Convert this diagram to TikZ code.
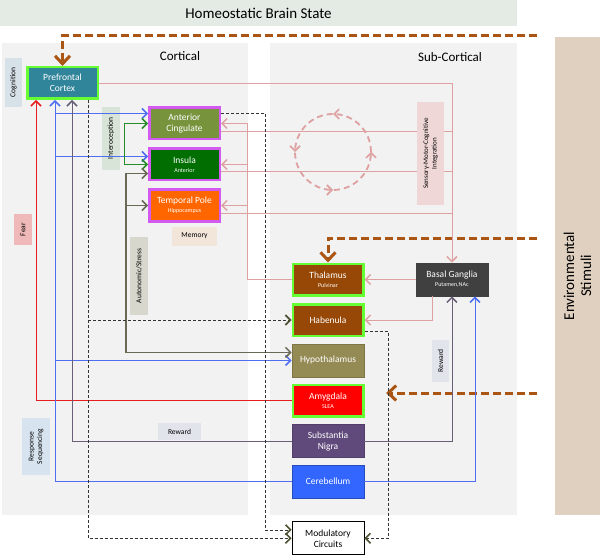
\documentclass[tikz,border=0pt]{standalone}
\usepackage{fontspec}
\setmainfont{Carlito}
\usetikzlibrary{arrows.meta, positioning, decorations.markings}

\definecolor{pfcteal}{RGB}{49,133,155}
\definecolor{glowgreen}{RGB}{102,255,51}
\definecolor{cingolive}{RGB}{119,147,60}
\definecolor{insgreen}{RGB}{0,110,0}
\definecolor{poleorange}{RGB}{255,102,0}
\definecolor{rimpink}{RGB}{210,90,240}
\definecolor{thalbrown}{RGB}{151,72,6}
\definecolor{hypkhaki}{RGB}{148,138,84}
\definecolor{snpurple}{RGB}{96,74,123}
\definecolor{cerblue}{RGB}{51,102,255}
\definecolor{bgdark}{RGB}{64,64,64}
\definecolor{panelgray}{RGB}{242,242,242}
\definecolor{homeogreen}{RGB}{228,235,228}
\definecolor{envtan}{RGB}{224,208,192}
\definecolor{stimbrown}{RGB}{170,85,20}
\definecolor{loopink}{RGB}{222,160,160}
\definecolor{fearred}{RGB}{230,30,30}
\definecolor{seqblue}{RGB}{80,110,240}
\definecolor{rewgray}{RGB}{105,95,120}
\definecolor{interogreen}{RGB}{40,140,40}
\definecolor{autogray}{RGB}{105,105,85}
\definecolor{tipolive}{RGB}{80,80,50}
\definecolor{cogfill}{RGB}{215,225,232}
\definecolor{interfill}{RGB}{215,228,215}
\definecolor{fearfill}{RGB}{240,185,185}
\definecolor{autofill}{RGB}{215,215,205}
\definecolor{memfill}{RGB}{242,230,218}
\definecolor{rewfill}{RGB}{226,228,236}
\definecolor{seqfill}{RGB}{215,228,240}
\definecolor{smcfill}{RGB}{240,215,215}

\newcommand{\subnote}[1]{{\fontsize{6}{7}\selectfont #1}}

\begin{document}
\begin{tikzpicture}[x=1pt, y=1pt, node distance=6.5pt,
        >={Straight Barb[length=5pt,width=10pt,line width=1.5pt]},
        box/.style={rectangle, draw, line width=0.8pt, minimum width=72pt, minimum height=33pt, inner sep=1pt, align=center, text=white, font=\fontsize{9.5}{11}\selectfont},
        glow/.style={box, draw=glowgreen, line width=2.5pt, minimum width=70.5pt, minimum height=31.5pt},
        rim/.style={box, draw=rimpink, line width=2.5pt, minimum width=70.5pt, minimum height=31.5pt},
        tagbox/.style={rectangle, inner sep=1pt, align=center, font=\fontsize{7.5}{8.5}\selectfont},
        vtagbox/.style={tagbox, rotate=90},
        stim/.style={draw=stimbrown, line width=3pt, dash pattern=on 8pt off 4pt, -{Straight Barb[length=8pt,width=15pt,line width=3pt]}},
        pinkline/.style={draw=loopink, line width=0.8pt},
        fearline/.style={draw=fearred, line width=0.8pt},
        seqline/.style={draw=seqblue, line width=0.8pt},
        rewline/.style={draw=rewgray, line width=0.8pt},
        interline/.style={draw=interogreen, line width=0.8pt},
        autoline/.style={draw=autogray, line width=1.3pt},
        modlink/.style={draw=black!80, line width=0.6pt, dash pattern=on 3pt off 2pt, -{Straight Barb[length=5pt,width=10pt,line width=1.6pt,color=tipolive]}}]
    \useasboundingbox (0,0) rectangle (600,-559);

    \node[rectangle, fill=homeogreen, minimum width=517pt, minimum height=26pt, font=\fontsize{15}{18}\selectfont] (homeo) at (258.5,-13) {Homeostatic Brain State};
    \node[rectangle, fill=panelgray, minimum width=246pt, minimum height=472pt] (cortex) at (125,-279) {};
    \node[rectangle, fill=panelgray, minimum width=247pt, minimum height=472pt] (subcortex) at (393.5,-279) {};
    \node[rectangle, fill=envtan, minimum width=478pt, minimum height=45pt, rotate=90, align=center, font=\fontsize{15}{17}\selectfont] (env) at (577.5,-276) {Environmental\\Stimuli};
    \node[font=\fontsize{13}{15}\selectfont] (corttitle) at (180,-56) {Cortical};
    \node[font=\fontsize{13}{15}\selectfont] (subtitle) at (450,-57) {Sub-Cortical};

    \node[vtagbox, fill=cogfill, minimum width=49pt, minimum height=17pt] (cognition) at (13.5,-82.5) {Cognition};
    \node[vtagbox, fill=interfill, minimum width=63pt, minimum height=18pt] (intero) at (111,-138.5) {Interoception};
    \node[vtagbox, fill=fearfill, minimum width=31pt, minimum height=18pt] (fear) at (23,-229.5) {Fear};
    \node[vtagbox, fill=autofill, minimum width=78pt, minimum height=18pt] (autonomic) at (139,-276) {Autonomic/Stress};
    \node[tagbox, fill=memfill, minimum width=45pt, minimum height=19pt] (memory) at (194.5,-236) {Memory};
    \node[tagbox, fill=rewfill, minimum width=43pt, minimum height=17pt] (rewardcort) at (179.5,-431.5) {Reward};
    \node[vtagbox, fill=seqfill, minimum width=57pt, minimum height=28pt] (response) at (36,-446.5) {Response\\Sequencing};
    \node[vtagbox, fill=rewfill, minimum width=42pt, minimum height=17pt] (rewardsub) at (440.5,-361) {Reward};

    \node[glow, fill=pfcteal] (pfc) at (62.5,-83) {Prefrontal\\Cortex};
    \node[rim, fill=cingolive] (ac) at (184.5,-123.5) {Anterior\\Cingulate};
    \node[rim, fill=insgreen, below=7pt of ac] (ins) {Insula\\[-2pt]\subnote{Anterior}};
    \node[rim, fill=poleorange, below=7pt of ins] (tp) {Temporal Pole\\[-2pt]\subnote{Hippocampus}};

    \node[glow, fill=thalbrown] (thal) at (328,-279.5) {Thalamus\\[-2pt]\subnote{Pulvinar}};
    \node[glow, fill=thalbrown, below=of thal] (hab) {Habenula};
    \node[box, fill=hypkhaki, draw=hypkhaki!85!black, below=of hab] (hyp) {Hypothalamus};
    \node[glow, fill=red, below=of hyp] (amy) {Amygdala\\[-2pt]\subnote{SLEA}};
    \node[box, fill=snpurple, draw=snpurple!85!black, below=of amy] (sn) {Substantia\\Nigra};
    \node[box, fill=cerblue, draw=cerblue!75!black, below=of sn] (cer) {Cerebellum};
    \node[box, fill=bgdark, draw=bgdark, right=51pt of thal] (bg) {Basal Ganglia\\[-2pt]\subnote{Putamen,NAc}};
    \node[box, fill=white, draw=black, text=black, below=23pt of cer] (mod) {Modulatory\\Circuits};

    \coordinate (fearx) at (36,0);
    \coordinate (seqx) at (55,0);
    \coordinate (rewx) at (72,0);
    \coordinate (dashx) at (88,0);
    \coordinate (interx) at (124,0);
    \coordinate (autox) at (126,0);
    \coordinate (loopx) at (247,0);
    \coordinate (acdashx) at (265,0);
    \coordinate (habdashx) at (388,0);
    \coordinate (habpinkx) at (432,0);
    \coordinate (cerbluex) at (475,0);
    \coordinate (stimtop) at (537,-36);
    \coordinate (stimmid) at (537,-238);
    \coordinate (stimlow) at (537,-393);
    \coordinate (stimend) at (386,-393);
    \coordinate (loop) at (333,-152);
    \coordinate (acout) at ([yshift=-8pt]ac.east);
    \coordinate (insout) at ([yshift=-7pt]ins.east);
    \coordinate (tpout) at ([yshift=-8pt]tp.east);
    \coordinate (acblue) at ([yshift=10pt]ac.west);
    \coordinate (insblue) at ([yshift=8pt]ins.west);
    \coordinate (insauto) at ([yshift=-9pt]ins.west);
    \coordinate (hypauto) at ([yshift=8pt]hyp.west);
    \coordinate (acdash) at ([yshift=10pt]ac.east);
    \coordinate (moddash) at ([yshift=8.5pt]mod.west);
    \coordinate (habdash) at ([yshift=-11pt]hab.east);

    \draw[stim] (stimtop) -| (pfc.north);
    \draw[stim] (stimmid) -| (thal.north);
    \draw[stim] (stimlow) -- (stimend);

    \draw[pinkline, ->] (pfc.east) -| (bg.north);
    \draw[pinkline] (acout) -- (acout -| bg.north);
    \draw[pinkline] (insout) -- (insout -| bg.north);
    \draw[pinkline] (tpout) -- (tpout -| bg.north);
    \draw[pinkline, ->] (thal.west) -| (loopx |- ac.east) -- (ac.east);
    \draw[pinkline, ->] (loopx |- ins.east) -- (ins.east);
    \draw[pinkline, ->] (loopx |- tp.east) -- (tp.east);
    \draw[pinkline, ->] (bg.west) -- (bg.west -| thal.east);
    \draw[pinkline, ->] (habpinkx |- bg.south) |- (hab.east);

    \draw[loopink, line width=1.8pt, dash pattern=on 6pt off 4pt, postaction={decorate},
        decoration={markings,
            mark=at position 0.001 with {\arrow{Straight Barb[length=5pt,width=10pt,line width=1.6pt]}},
            mark=at position 0.25 with {\arrow{Straight Barb[length=5pt,width=10pt,line width=1.6pt]}},
            mark=at position 0.5 with {\arrow{Straight Barb[length=5pt,width=10pt,line width=1.6pt]}},
            mark=at position 0.75 with {\arrow{Straight Barb[length=5pt,width=10pt,line width=1.6pt]}}}]
        (loop) circle[radius=38pt];

    \draw[fearline, ->] (amy.west) -| (fearx |- pfc.south);
    \draw[seqline, ->] (cer.west) -| (seqx |- pfc.south);
    \draw[seqline, ->] (cer.east) -| (cerbluex |- bg.south);
    \draw[seqline, ->] (seqx |- acblue) -- (acblue);
    \draw[seqline, ->] (seqx |- insblue) -- (insblue);
    \draw[seqline, ->] (seqx |- hyp.west) -- (hyp.west);
    \draw[rewline, ->] (sn.west) -| (rewx |- pfc.south);
    \draw[rewline, ->] (sn.east) -| (bg.south);
    \draw[interline, <->] (ac.west) -| (interx |- ins.west) -- (ins.west);
    \draw[autoline, <->] (insauto) -| (autox |- hypauto) -- (hypauto);
    \draw[autoline, ->] (autox |- tp.west) -- (tp.west);

    \draw[modlink] (dashx |- pfc.south) |- (mod.west);
    \draw[modlink] (dashx |- pfc.south) |- (hab.west);
    \draw[modlink] (acdash) -| (acdashx |- moddash) -- (moddash);
    \draw[modlink] (habdash) -| (habdashx |- mod.east) -- (mod.east);

    \node[vtagbox, fill=smcfill, minimum width=103pt, minimum height=27pt, font=\fontsize{7}{8.5}\selectfont] (smc) at (430.5,-153.5) {Sensory-Motor-Cognitive\\Integration};
\end{tikzpicture}
\end{document}
